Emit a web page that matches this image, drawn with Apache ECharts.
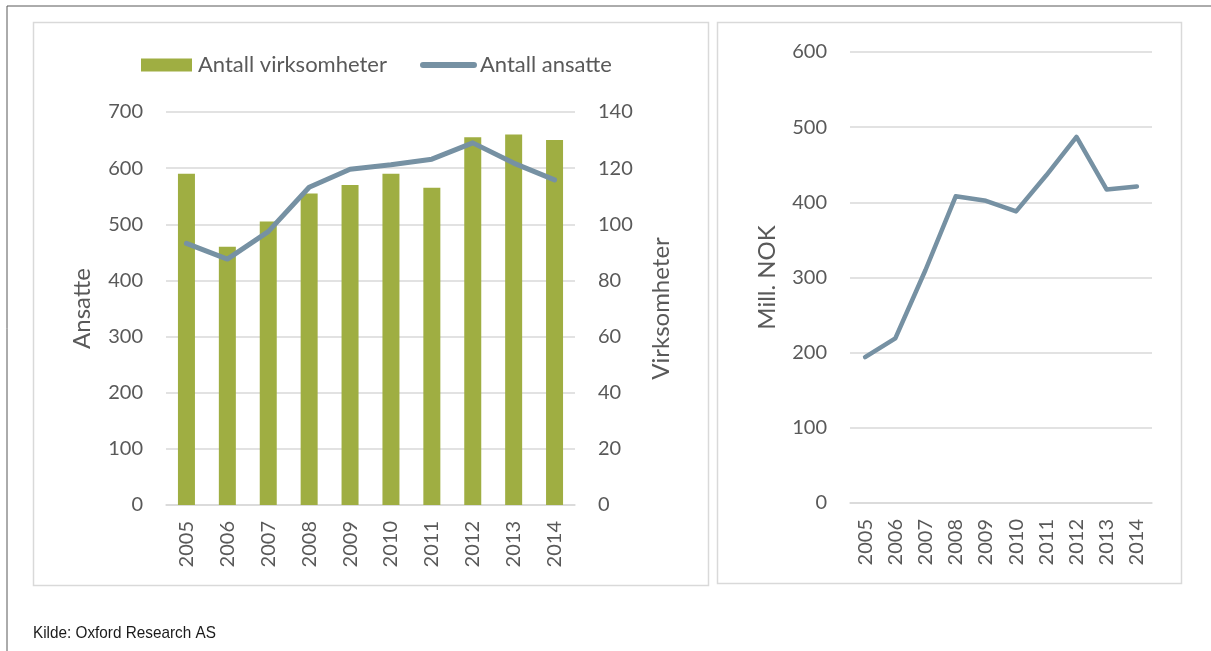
<!DOCTYPE html>
<html>
<head>
<meta charset="utf-8">
<script src="https://cdn.jsdelivr.net/npm/echarts@6/dist/echarts.min.js"></script>
<style>
  html, body { margin: 0; padding: 0; background: #fff; }
  #main { width: 1211px; height: 651px; }
</style>
</head>
<body>
<div id="main"></div>
<script>
// data
var years = ['2005', '2006', '2007', '2008', '2009', '2010', '2011', '2012', '2013', '2014'];
var virksomheter = [118, 92, 101, 111, 114, 118, 113, 131, 132, 130];
var ansatte = [466, 438, 487, 566, 598, 606, 616, 645, 609, 579];
var millNok = [194, 219, 310, 408, 402, 388, 436, 487, 417, 421];

var textColor = '#595959';
var gridColor = '#d9d9d9';
var fontFam = 'Lato, "Open Sans", sans-serif';

var myChart = echarts.init(document.getElementById('main'));

function valueAxis(opt) {
    return Object.assign({
        type: 'value',
        nameLocation: 'middle',
        nameTextStyle: { color: textColor, fontSize: 24, fontFamily: fontFam },
        axisLine: { show: false },
        axisTick: { show: false },
        axisLabel: { color: textColor, fontSize: 20, fontFamily: fontFam, margin: 23 },
        splitLine: { lineStyle: { color: gridColor, width: 1.5 } }
    }, opt);
}

function catAxis(grid) {
    return {
        type: 'category',
        gridIndex: grid,
        data: years,
        axisLine: { lineStyle: { color: gridColor, width: 1.5 } },
        axisTick: { show: false },
        axisLabel: { color: textColor, fontSize: 20, fontFamily: fontFam, rotate: 90, margin: 16, interval: 0 }
    };
}

var option = {
    animation: false,
    textStyle: { fontFamily: fontFam },
    graphic: [
        // outer frame
        { type: 'line', shape: { x1: 7, y1: 6, x2: 1211, y2: 6 }, style: { stroke: '#595959', lineWidth: 1 } },
        { type: 'line', shape: { x1: 7, y1: 6, x2: 7, y2: 651 }, style: { stroke: '#595959', lineWidth: 1 } },
        // panel boxes
        { type: 'rect', shape: { x: 33.5, y: 22.5, width: 675, height: 563 }, style: { fill: 'none', stroke: gridColor, lineWidth: 1.5 } },
        { type: 'rect', shape: { x: 717.5, y: 22.5, width: 464, height: 561 }, style: { fill: 'none', stroke: gridColor, lineWidth: 1.5 } },
        {
            type: 'text', x: 33, y: 625, scaleX: 0.9,
            style: { text: 'Kilde: Oxford Research AS', fill: '#1a1a1a', fontSize: 17, fontFamily: '"Liberation Sans Narrow", "Liberation Sans", sans-serif' }
        }
    ],
    legend: {
        left: 136,
        top: 49,
        itemWidth: 51,
        itemHeight: 13,
        itemGap: 33,
        textStyle: { color: textColor, fontSize: 22, fontFamily: fontFam, padding: [0, 0, 0, 1] },
        data: [
            { name: 'Antall virksomheter', icon: 'rect' },
            {
                name: 'Antall ansatte',
                itemStyle: { opacity: 0 },
                lineStyle: { width: 6, cap: 'round', color: '#7691a3' }
            }
        ]
    },
    grid: [
        { left: 166, top: 112, width: 409, height: 393 },
        { left: 850, top: 52, width: 302, height: 451 }
    ],
    xAxis: [catAxis(0), catAxis(1)],
    yAxis: [
        valueAxis({ gridIndex: 0, min: 0, max: 700, interval: 100, name: 'Ansatte', nameGap: 72 }),
        valueAxis({ gridIndex: 0, min: 0, max: 140, interval: 20, name: 'Virksomheter', nameGap: 74, position: 'right',
            nameRotate: 90, splitLine: { show: false } }),
        valueAxis({ gridIndex: 1, min: 0, max: 600, interval: 100, name: 'Mill. NOK', nameGap: 71 })
    ],
    series: [
        {
            name: 'Antall virksomheter',
            type: 'bar',
            xAxisIndex: 0,
            yAxisIndex: 1,
            barWidth: 17,
            itemStyle: { color: '#9fae42' },
            data: virksomheter
        },
        {
            name: 'Antall ansatte',
            type: 'line',
            xAxisIndex: 0,
            yAxisIndex: 0,
            symbol: 'none',
            lineStyle: { color: '#7691a3', width: 5, cap: 'round', join: 'round' },
            itemStyle: { color: '#7691a3' },
            data: ansatte
        },
        {
            name: 'Mill. NOK',
            type: 'line',
            xAxisIndex: 1,
            yAxisIndex: 2,
            symbol: 'none',
            lineStyle: { color: '#7691a3', width: 4.5, cap: 'round', join: 'round' },
            data: millNok
        }
    ]
};

myChart.setOption(option, true);
</script>
</body>
</html>
